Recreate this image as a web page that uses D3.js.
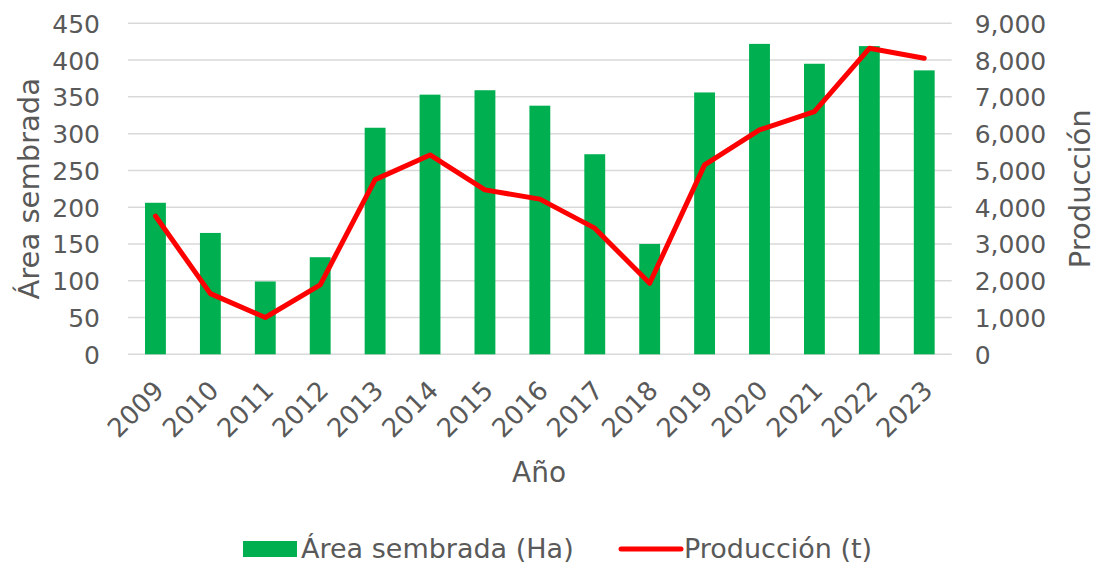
<!DOCTYPE html>
<html>
<head>
<meta charset="utf-8">
<script src="https://cdn.jsdelivr.net/npm/d3@7"></script>
<style>
  html, body { margin: 0; padding: 0; background: #fff; }
  svg text { font-family: "DejaVu Sans", Verdana, sans-serif; fill: #595959; }
</style>
</head>
<body>
<div id="chart"></div>
<script>
/* === Área sembrada vs Producción (bars + line, dual axis) === */

var years = ['2009', '2010', '2011', '2012', '2013', '2014', '2015', '2016',
             '2017', '2018', '2019', '2020', '2021', '2022', '2023'];
var area = [206, 165, 99, 132, 308, 353, 359, 338, 272, 150, 356, 422, 395, 419, 386];
var produccion = [3760, 1650, 1000, 1890, 4750, 5420, 4470, 4220, 3430, 1930, 5150, 6100, 6600, 8320, 8050];
var leftTicks = [0, 50, 100, 150, 200, 250, 300, 350, 400, 450];
var rightTicks = [0, 1000, 2000, 3000, 4000, 5000, 6000, 7000, 8000, 9000];

var width = 1096, height = 565;
var plot = { left: 128, right: 951.7, top: 23.3, bottom: 354.3 };

var svg = d3.select('#chart')
    .append('svg')
    .attr('width', width)
    .attr('height', height);

var x = d3.scaleBand()
    .domain(years)
    .range([plot.left, plot.right])
    .paddingInner(0.62)
    .paddingOuter(0.31);

var yLeft = d3.scaleLinear().domain([0, 450]).range([plot.bottom, plot.top]);
var yRight = d3.scaleLinear().domain([0, 9000]).range([plot.bottom, plot.top]);

// Gridlines
svg.append('g').selectAll('line')
    .data(leftTicks)
    .join('line')
    .attr('x1', plot.left)
    .attr('x2', plot.right)
    .attr('y1', function(d) { return yLeft(d); })
    .attr('y2', function(d) { return yLeft(d); })
    .attr('stroke', '#d9d9d9')
    .attr('stroke-width', 1.5);

// Left axis
var leftAxis = svg.append('g')
    .attr('transform', 'translate(' + (plot.left - 28) + ',0)')
    .call(d3.axisLeft(yLeft).tickValues(leftTicks).tickSize(0).tickPadding(0));
leftAxis.select('.domain').remove();
leftAxis.selectAll('text').style('font-size', '25px').attr('dy', '0.36em');

// Right axis
var rightAxis = svg.append('g')
    .attr('transform', 'translate(' + (plot.right + 23) + ',0)')
    .call(d3.axisRight(yRight).tickValues(rightTicks).tickSize(0).tickPadding(0)
        .tickFormat(d3.format(',')));
rightAxis.select('.domain').remove();
rightAxis.selectAll('text').style('font-size', '25px').attr('dy', '0.36em');

// Bars
svg.append('g').selectAll('rect')
    .data(area)
    .join('rect')
    .attr('x', function(d, i) { return x(years[i]); })
    .attr('y', function(d) { return yLeft(d); })
    .attr('width', x.bandwidth())
    .attr('height', function(d) { return plot.bottom - yLeft(d); })
    .attr('fill', '#00b050');

// Line
var line = d3.line()
    .x(function(d, i) { return x(years[i]) + x.bandwidth() / 2; })
    .y(function(d) { return yRight(d); });

svg.append('path')
    .datum(produccion)
    .attr('d', line)
    .attr('fill', 'none')
    .attr('stroke', '#ff0000')
    .attr('stroke-width', 5)
    .attr('stroke-linejoin', 'round')
    .attr('stroke-linecap', 'round');

// X tick labels (rotated)
svg.append('g').selectAll('text')
    .data(years)
    .join('text')
    .attr('transform', function(d) {
        return 'translate(' + (x(d) + x.bandwidth() / 2 - 3) + ',' + (plot.bottom + 25) + ') rotate(-45)';
    })
    .attr('text-anchor', 'end')
    .attr('dy', '0.7em')
    .style('font-size', '26px')
    .text(function(d) { return d; });

// Axis titles
svg.append('text')
    .attr('x', 539)
    .attr('y', 482)
    .attr('text-anchor', 'middle')
    .style('font-size', '28px')
    .text('Año');

svg.append('text')
    .attr('transform', 'translate(39,' + ((plot.top + plot.bottom) / 2) + ') rotate(-90)')
    .attr('text-anchor', 'middle')
    .style('font-size', '29px')
    .text('Área sembrada');

svg.append('text')
    .attr('transform', 'translate(1090,' + ((plot.top + plot.bottom) / 2) + ') rotate(-90)')
    .attr('text-anchor', 'middle')
    .style('font-size', '29px')
    .text('Producción');

// Legend
var legend = svg.append('g');
legend.append('rect')
    .attr('x', 243).attr('y', 541)
    .attr('width', 54).attr('height', 16)
    .attr('fill', '#00b050');
legend.append('text')
    .attr('x', 301).attr('y', 558)
    .style('font-size', '27px')
    .text('Área sembrada (Ha)');
legend.append('line')
    .attr('x1', 621).attr('x2', 681)
    .attr('y1', 549).attr('y2', 549)
    .attr('stroke', '#ff0000')
    .attr('stroke-width', 5)
    .attr('stroke-linecap', 'round');
legend.append('text')
    .attr('x', 684).attr('y', 558)
    .style('font-size', '27px')
    .text('Producción (t)');
</script>
</body>
</html>
